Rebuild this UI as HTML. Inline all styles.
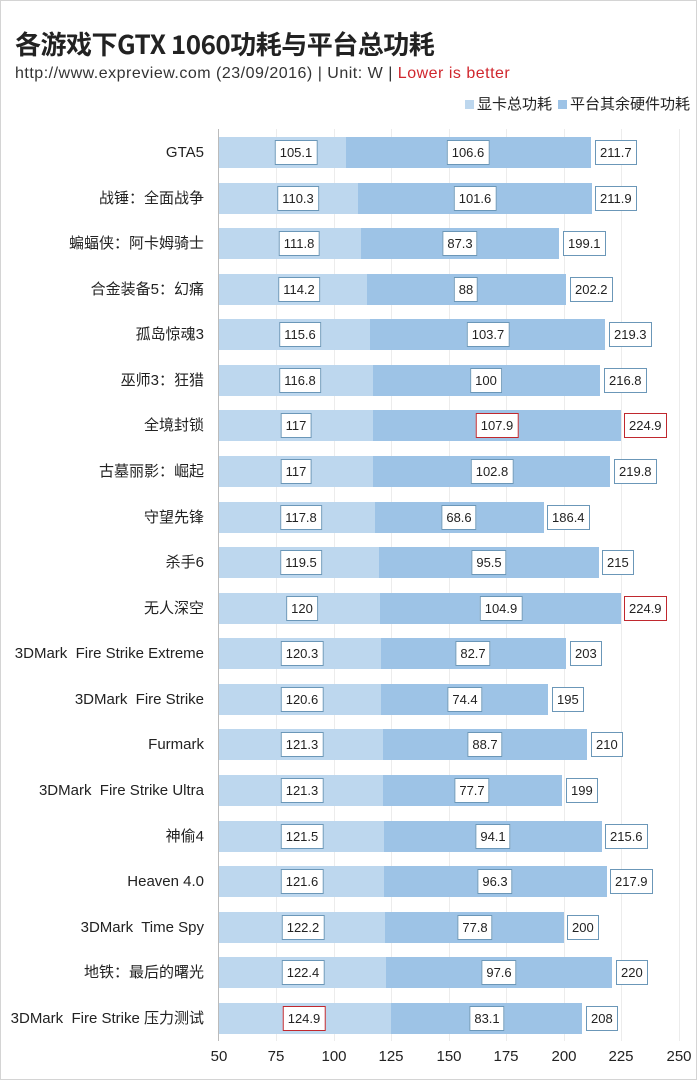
<!DOCTYPE html>
<html><head><meta charset="utf-8"><style>
body{margin:0;background:#fff}
#c{position:relative;width:695px;height:1078px;border:1px solid #d4d4d4;overflow:hidden;font-family:"Liberation Sans","Noto Sans CJK SC",sans-serif;color:#222}
.t{position:absolute;left:14px;top:24px;font-size:26px;font-weight:bold;font-family:"Noto Sans CJK SC","Liberation Sans",sans-serif;letter-spacing:-0.5px}
.s{position:absolute;left:14px;top:64px;font-size:16px;color:#333;letter-spacing:0.5px}
.lg{position:absolute;right:6px;top:92px;font-size:15px;font-family:"Noto Sans CJK SC",sans-serif}
.lg i{display:inline-block;width:9px;height:9px;margin:0 3px 0 6px}
.g{position:absolute;top:128px;height:912px;width:1px;background:#ececec}
.b1,.b2{position:absolute;height:31px}
.b1{background:#bdd7ee}.b2{background:#9dc3e6}
.cat{position:absolute;right:492px;font-size:15px;line-height:25px;white-space:nowrap;font-family:"Liberation Sans","Noto Sans CJK SC",sans-serif}
.l{position:absolute;height:23px;line-height:23px;padding:0 4px;background:#fff;border:1px solid #6b97b8;font-size:13px;transform:translateX(-50%)}
.tl{position:absolute;height:23px;line-height:23px;padding:0 4px;background:#fff;border:1px solid #6b97b8;font-size:13px}
.r{border-color:#c0282e}
.x{position:absolute;top:1047px;font-size:15px;transform:translateX(-50%)}
</style></head><body><div id="c">
<div class="t">各游戏下GTX 1060功耗与平台总功耗</div>
<div class="s">http://www.expreview.com (23/09/2016) | Unit: W | <span style="color:#d0262d">Lower is better</span></div>
<div class="lg"><i style="background:#bdd7ee"></i>显卡总功耗<i style="background:#9dc3e6"></i>平台其余硬件功耗</div>
<div class="g" style="left:275px"></div><div class="g" style="left:333px"></div><div class="g" style="left:390px"></div><div class="g" style="left:448px"></div><div class="g" style="left:505px"></div><div class="g" style="left:563px"></div><div class="g" style="left:620px"></div><div class="g" style="left:678px"></div>
<div style="position:absolute;left:217px;top:128px;width:1px;height:912px;background:#bbb"></div>

<div class="cat" style="top:139px">GTA5</div><div class="b1" style="left:218px;top:136px;width:127px"></div><div class="b2" style="left:345px;top:136px;width:245px"></div><div class="l" style="left:295px;top:139px">105.1</div><div class="l" style="left:467px;top:139px">106.6</div><div class="tl" style="left:594px;top:139px">211.7</div>
<div class="cat" style="top:185px">战锤：全面战争</div><div class="b1" style="left:218px;top:182px;width:139px"></div><div class="b2" style="left:357px;top:182px;width:234px"></div><div class="l" style="left:297px;top:185px">110.3</div><div class="l" style="left:474px;top:185px">101.6</div><div class="tl" style="left:594px;top:185px">211.9</div>
<div class="cat" style="top:230px">蝙蝠侠：阿卡姆骑士</div><div class="b1" style="left:218px;top:227px;width:142px"></div><div class="b2" style="left:360px;top:227px;width:198px"></div><div class="l" style="left:298px;top:230px">111.8</div><div class="l" style="left:459px;top:230px">87.3</div><div class="tl" style="left:562px;top:230px">199.1</div>
<div class="cat" style="top:276px">合金装备5：幻痛</div><div class="b1" style="left:218px;top:273px;width:148px"></div><div class="b2" style="left:366px;top:273px;width:199px"></div><div class="l" style="left:298px;top:276px">114.2</div><div class="l" style="left:465px;top:276px">88</div><div class="tl" style="left:569px;top:276px">202.2</div>
<div class="cat" style="top:321px">孤岛惊魂3</div><div class="b1" style="left:218px;top:318px;width:151px"></div><div class="b2" style="left:369px;top:318px;width:235px"></div><div class="l" style="left:299px;top:321px">115.6</div><div class="l" style="left:487px;top:321px">103.7</div><div class="tl" style="left:608px;top:321px">219.3</div>
<div class="cat" style="top:367px">巫师3：狂猎</div><div class="b1" style="left:218px;top:364px;width:154px"></div><div class="b2" style="left:372px;top:364px;width:227px"></div><div class="l" style="left:299px;top:367px">116.8</div><div class="l" style="left:485px;top:367px">100</div><div class="tl" style="left:603px;top:367px">216.8</div>
<div class="cat" style="top:412px">全境封锁</div><div class="b1" style="left:218px;top:409px;width:154px"></div><div class="b2" style="left:372px;top:409px;width:248px"></div><div class="l" style="left:295px;top:412px">117</div><div class="l r" style="left:496px;top:412px">107.9</div><div class="tl r" style="left:623px;top:412px">224.9</div>
<div class="cat" style="top:458px">古墓丽影：崛起</div><div class="b1" style="left:218px;top:455px;width:154px"></div><div class="b2" style="left:372px;top:455px;width:237px"></div><div class="l" style="left:295px;top:458px">117</div><div class="l" style="left:491px;top:458px">102.8</div><div class="tl" style="left:613px;top:458px">219.8</div>
<div class="cat" style="top:504px">守望先锋</div><div class="b1" style="left:218px;top:501px;width:156px"></div><div class="b2" style="left:374px;top:501px;width:169px"></div><div class="l" style="left:300px;top:504px">117.8</div><div class="l" style="left:458px;top:504px">68.6</div><div class="tl" style="left:546px;top:504px">186.4</div>
<div class="cat" style="top:549px">杀手6</div><div class="b1" style="left:218px;top:546px;width:160px"></div><div class="b2" style="left:378px;top:546px;width:220px"></div><div class="l" style="left:300px;top:549px">119.5</div><div class="l" style="left:488px;top:549px">95.5</div><div class="tl" style="left:601px;top:549px">215</div>
<div class="cat" style="top:595px">无人深空</div><div class="b1" style="left:218px;top:592px;width:161px"></div><div class="b2" style="left:379px;top:592px;width:241px"></div><div class="l" style="left:301px;top:595px">120</div><div class="l" style="left:500px;top:595px">104.9</div><div class="tl r" style="left:623px;top:595px">224.9</div>
<div class="cat" style="top:640px">3DMark&nbsp; Fire Strike Extreme</div><div class="b1" style="left:218px;top:637px;width:162px"></div><div class="b2" style="left:380px;top:637px;width:185px"></div><div class="l" style="left:301px;top:640px">120.3</div><div class="l" style="left:472px;top:640px">82.7</div><div class="tl" style="left:569px;top:640px">203</div>
<div class="cat" style="top:686px">3DMark&nbsp; Fire Strike</div><div class="b1" style="left:218px;top:683px;width:162px"></div><div class="b2" style="left:380px;top:683px;width:167px"></div><div class="l" style="left:301px;top:686px">120.6</div><div class="l" style="left:464px;top:686px">74.4</div><div class="tl" style="left:551px;top:686px">195</div>
<div class="cat" style="top:731px">Furmark</div><div class="b1" style="left:218px;top:728px;width:164px"></div><div class="b2" style="left:382px;top:728px;width:204px"></div><div class="l" style="left:301px;top:731px">121.3</div><div class="l" style="left:484px;top:731px">88.7</div><div class="tl" style="left:590px;top:731px">210</div>
<div class="cat" style="top:777px">3DMark&nbsp; Fire Strike Ultra</div><div class="b1" style="left:218px;top:774px;width:164px"></div><div class="b2" style="left:382px;top:774px;width:179px"></div><div class="l" style="left:301px;top:777px">121.3</div><div class="l" style="left:471px;top:777px">77.7</div><div class="tl" style="left:565px;top:777px">199</div>
<div class="cat" style="top:823px">神偷4</div><div class="b1" style="left:218px;top:820px;width:165px"></div><div class="b2" style="left:383px;top:820px;width:218px"></div><div class="l" style="left:301px;top:823px">121.5</div><div class="l" style="left:492px;top:823px">94.1</div><div class="tl" style="left:604px;top:823px">215.6</div>
<div class="cat" style="top:868px">Heaven 4.0</div><div class="b1" style="left:218px;top:865px;width:165px"></div><div class="b2" style="left:383px;top:865px;width:223px"></div><div class="l" style="left:301px;top:868px">121.6</div><div class="l" style="left:494px;top:868px">96.3</div><div class="tl" style="left:609px;top:868px">217.9</div>
<div class="cat" style="top:914px">3DMark&nbsp; Time Spy</div><div class="b1" style="left:218px;top:911px;width:166px"></div><div class="b2" style="left:384px;top:911px;width:179px"></div><div class="l" style="left:302px;top:914px">122.2</div><div class="l" style="left:474px;top:914px">77.8</div><div class="tl" style="left:566px;top:914px">200</div>
<div class="cat" style="top:959px">地铁：最后的曙光</div><div class="b1" style="left:218px;top:956px;width:167px"></div><div class="b2" style="left:385px;top:956px;width:226px"></div><div class="l" style="left:302px;top:959px">122.4</div><div class="l" style="left:498px;top:959px">97.6</div><div class="tl" style="left:615px;top:959px">220</div>
<div class="cat" style="top:1005px">3DMark&nbsp; Fire Strike 压力测试</div><div class="b1" style="left:218px;top:1002px;width:172px"></div><div class="b2" style="left:390px;top:1002px;width:191px"></div><div class="l r" style="left:303px;top:1005px">124.9</div><div class="l" style="left:486px;top:1005px">83.1</div><div class="tl" style="left:585px;top:1005px">208</div>

<div class="x" style="left:218px">50</div><div class="x" style="left:275px">75</div><div class="x" style="left:333px">100</div><div class="x" style="left:390px">125</div><div class="x" style="left:448px">150</div><div class="x" style="left:505px">175</div><div class="x" style="left:563px">200</div><div class="x" style="left:620px">225</div><div class="x" style="left:678px">250</div>
</div></body></html>
